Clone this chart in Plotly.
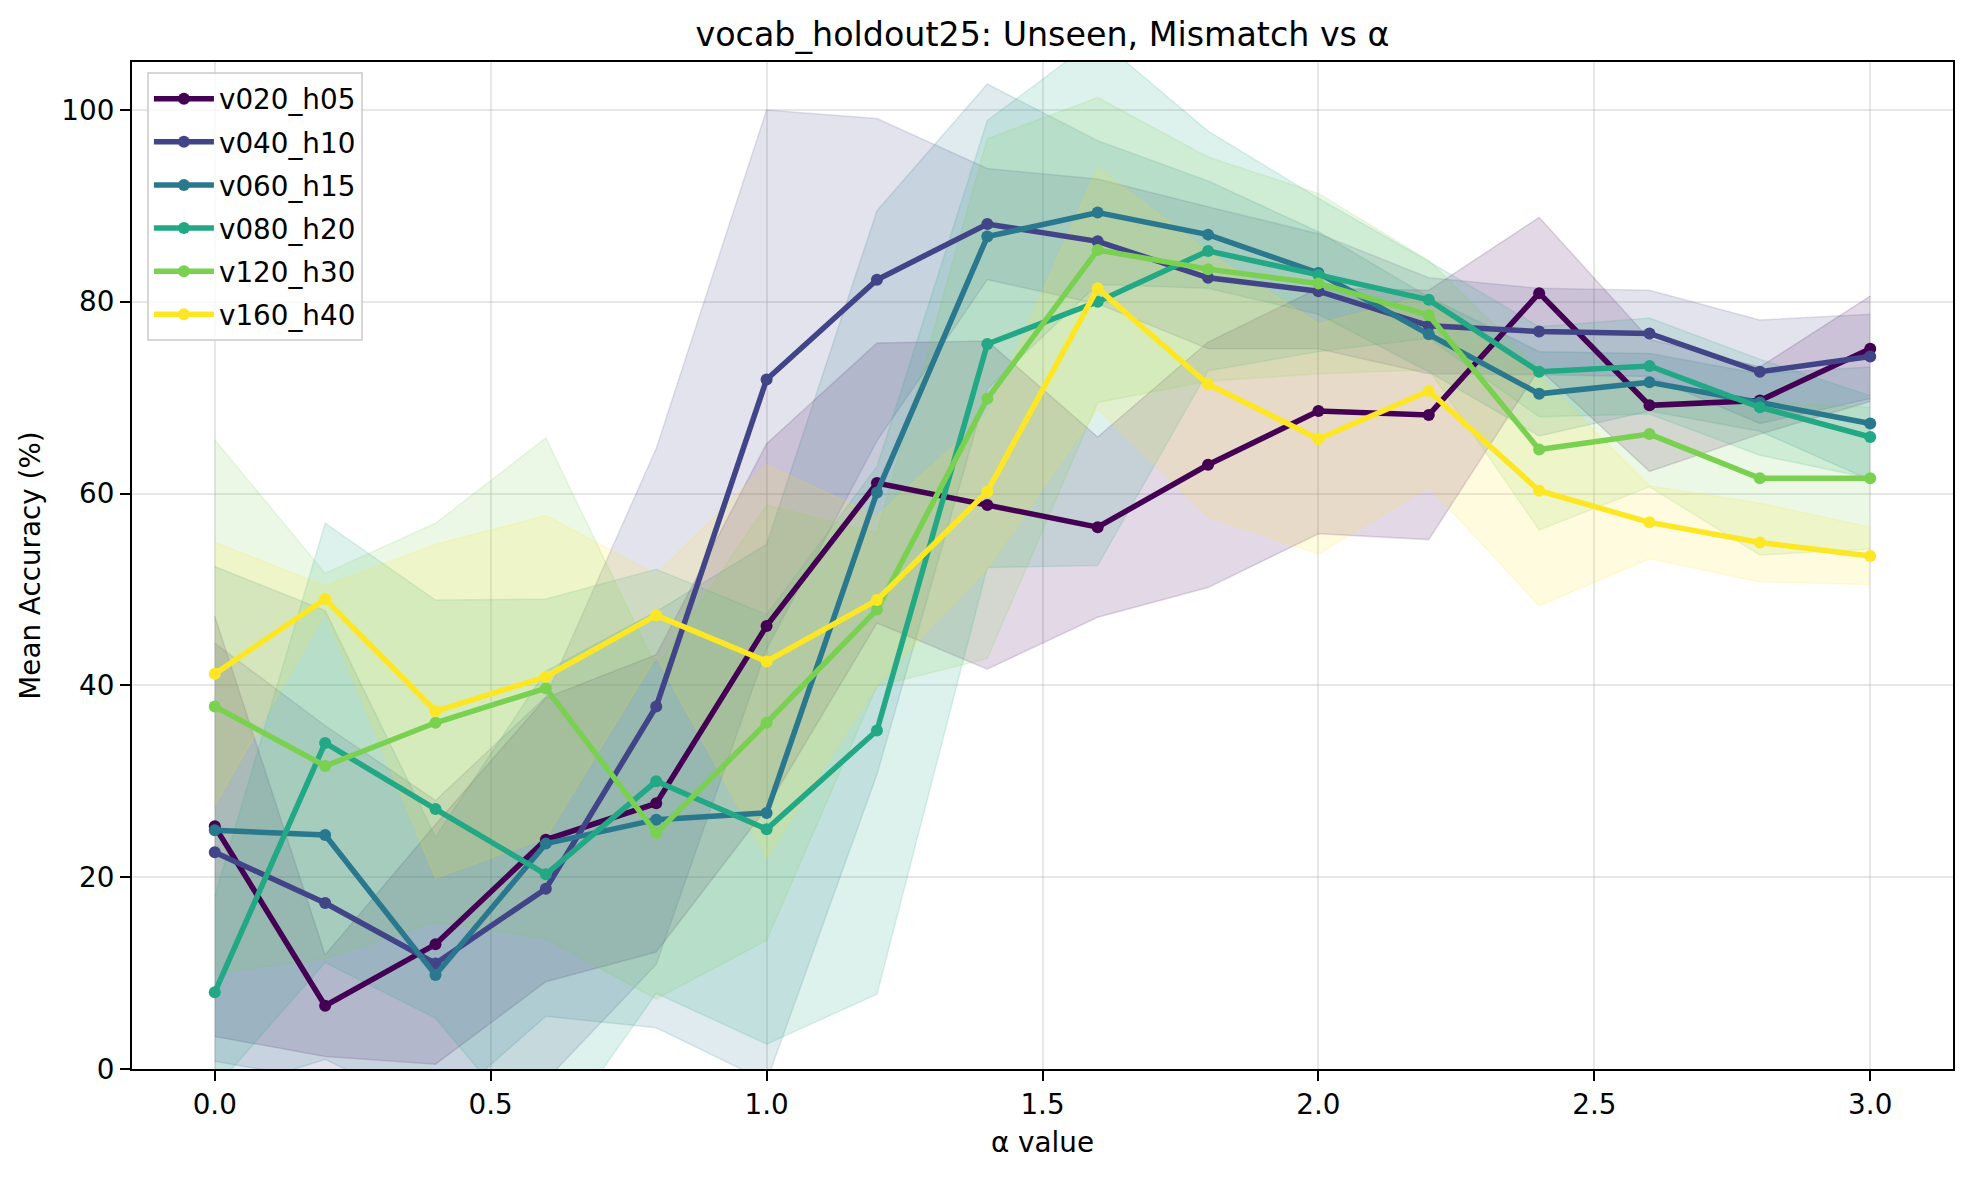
import plotly.graph_objects as go

alpha_vals = [0.0, 0.2, 0.4, 0.6, 0.8, 1.0, 1.2, 1.4, 1.6, 1.8, 2.0, 2.2, 2.4, 2.6, 2.8, 3.0]
series_names = ["v020_h05", "v040_h10", "v060_h15", "v080_h20", "v120_h30", "v160_h40"]
series_colors = ["#440154", "#414487", "#2a788e", "#22a884", "#7ad151", "#fde725"]

mean_v020 = [25.3, 6.6, 13.0, 23.9, 27.7, 46.2, 61.1, 58.8, 56.5, 63.0, 68.6, 68.2, 80.9, 69.2, 69.7, 75.1]
mean_v040 = [22.6, 17.3, 11.0, 18.8, 37.8, 71.9, 82.3, 88.1, 86.3, 82.5, 81.1, 77.5, 76.9, 76.7, 72.7, 74.3]
mean_v060 = [24.9, 24.4, 9.8, 23.5, 26.0, 26.7, 60.1, 86.8, 89.3, 87.0, 83.0, 76.6, 70.4, 71.6, 69.5, 67.3]
mean_v080 = [8.0, 34.0, 27.1, 20.3, 30.0, 25.0, 35.3, 75.6, 80.0, 85.3, 82.8, 80.2, 72.7, 73.3, 69.0, 65.9]
mean_v120 = [37.8, 31.6, 36.1, 39.7, 24.6, 36.1, 47.9, 69.9, 85.4, 83.4, 81.9, 78.6, 64.6, 66.2, 61.6, 61.6]
mean_v160 = [41.2, 49.0, 37.3, 40.9, 47.3, 42.5, 48.9, 60.2, 81.4, 71.4, 65.7, 70.7, 60.3, 57.0, 54.9, 53.5]

std_v020 = [21.9, 5.3, 12.5, 14.8, 15.5, 19.0, 14.6, 17.1, 9.4, 12.8, 12.8, 13.0, 7.9, 6.9, 3.5, 5.5]
std_v040 = [21.8, 18.5, 17.0, 20.0, 26.9, 28.1, 16.8, 5.8, 6.5, 7.4, 6.0, 5.0, 4.5, 4.5, 5.4, 4.4]
std_v060 = [27.5, 23.4, 14.4, 18.0, 21.7, 28.0, 29.4, 15.9, 7.5, 5.6, 4.3, 3.9, 4.4, 3.0, 3.0, 5.9]
std_v080 = [10.0, 22.9, 21.8, 28.7, 22.1, 22.4, 27.5, 23.3, 27.5, 12.5, 8.0, 4.0, 4.7, 5.0, 5.0, 4.3]
std_v120 = [27.8, 20.1, 20.8, 26.1, 17.3, 22.7, 8.0, 27.1, 15.9, 11.7, 9.4, 5.7, 8.4, 5.5, 8.0, 7.4]
std_v160 = [13.7, 1.4, 17.4, 16.8, 4.3, 20.5, 8.8, 8.0, 12.6, 13.8, 12.0, 10.0, 12.0, 3.8, 4.1, 3.0]

means = [mean_v020, mean_v040, mean_v060, mean_v080, mean_v120, mean_v160]
stds = [std_v020, std_v040, std_v060, std_v080, std_v120, std_v160]

x_tick_vals = [0.0, 0.5, 1.0, 1.5, 2.0, 2.5, 3.0]
x_tick_text = ["0.0", "0.5", "1.0", "1.5", "2.0", "2.5", "3.0"]
y_tick_vals = [0, 20, 40, 60, 80, 100]
y_tick_text = ["0", "20", "40", "60", "80", "100"]


def rgba(hex_color, a):
    h = hex_color.lstrip("#")
    r, g, b = int(h[0:2], 16), int(h[2:4], 16), int(h[4:6], 16)
    return f"rgba({r},{g},{b},{a})"


fig = go.Figure()

# bands (drawn below all lines)
for name, col, m, s in zip(series_names, series_colors, means, stds):
    lower = [a - b for a, b in zip(m, s)]
    upper = [a + b for a, b in zip(m, s)]
    fig.add_trace(go.Scatter(x=alpha_vals, y=lower, mode="lines",
                             line=dict(color=rgba(col, 0.15), width=1.5),
                             showlegend=False, hoverinfo="skip"))
    fig.add_trace(go.Scatter(x=alpha_vals, y=upper, mode="lines", fill="tonexty",
                             fillcolor=rgba(col, 0.15),
                             line=dict(color=rgba(col, 0.15), width=1.5),
                             showlegend=False, hoverinfo="skip"))

for name, col, m in zip(series_names, series_colors, means):
    fig.add_trace(go.Scatter(x=alpha_vals, y=m, mode="lines+markers", name=name,
                             legendgroup=name,
                             line=dict(color=col, width=5.5),
                             marker=dict(color=col, size=12)))

font_family = "DejaVu Sans, Liberation Sans, sans-serif"
grid_col = "rgba(176,176,176,0.3)"

fig.update_layout(
    width=1980, height=1177,
    margin=dict(l=132, r=27, t=62, b=108),
    paper_bgcolor="white", plot_bgcolor="white",
    font=dict(family=font_family, size=27.8, color="black"),
    title=dict(text="vocab_holdout25: Unseen, Mismatch vs α", x=0.5, xref="paper",
               xanchor="center", y=0.971, yref="container", yanchor="middle",
               font=dict(size=33.3, color="black")),
    legend=dict(x=0.0082, y=0.99, xanchor="left", yanchor="top",
                traceorder="grouped",
                bgcolor="rgba(255,255,255,0.8)", bordercolor="rgba(204,204,204,0.8)",
                borderwidth=2, font=dict(size=27.8), itemwidth=60,
                tracegroupgap=4),
    showlegend=True,
)

fig.update_xaxes(range=[-0.15, 3.15], tickvals=x_tick_vals, ticktext=x_tick_text,
                 ticks="outside", ticklen=10, tickwidth=2.2, tickcolor="black",
                 showline=True, linecolor="black", linewidth=2.2, mirror=True,
                 showgrid=True, gridcolor=grid_col, gridwidth=2.2, zeroline=False,
                 title=dict(text="α value", standoff=12, font=dict(size=27.8)),
                 tickfont=dict(size=27.8))
fig.update_yaxes(range=[0, 105], tickvals=y_tick_vals, ticktext=y_tick_text,
                 ticks="outside", ticklen=10, tickwidth=2.2, tickcolor="black",
                 showline=True, linecolor="black", linewidth=2.2, mirror=True,
                 showgrid=True, gridcolor=grid_col, gridwidth=2.2, zeroline=False,
                 title=dict(text="Mean Accuracy (%)", standoff=13, font=dict(size=27.8)),
                 tickfont=dict(size=27.8))

fig.write_html("out.html")
